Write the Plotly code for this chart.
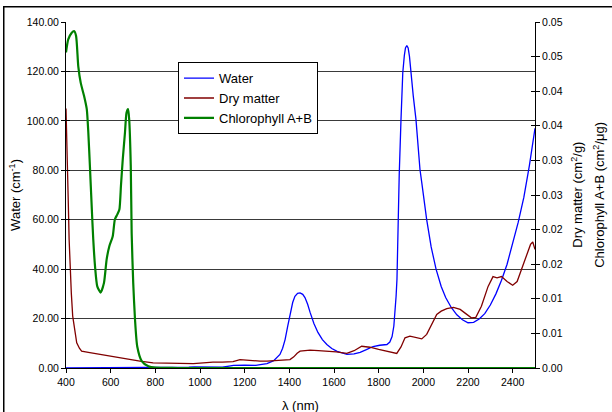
import plotly.graph_objects as go

# ---------------- DATA ----------------
water_wl = [400, 700, 900, 950, 975, 1000, 1050, 1100, 1130, 1150, 1200, 1250, 1270, 1300, 1330,
            1358, 1370, 1381, 1393, 1403, 1415, 1425, 1437, 1448, 1460, 1470, 1482, 1493, 1510,
            1528, 1548, 1568, 1590, 1614, 1635, 1658, 1690, 1717, 1745, 1775, 1805, 1837, 1850,
            1860, 1868, 1873, 1878, 1882, 1886, 1892, 1900, 1908, 1915, 1920, 1926, 1932, 1938,
            1944, 1955, 1967, 1976, 1985, 1993, 2003, 2015, 2035, 2057, 2080, 2100, 2125, 2150,
            2175, 2200, 2225, 2250, 2275, 2300, 2325, 2350, 2375, 2400, 2425, 2450, 2475, 2500]
water_val = [0.0, 0.01, 0.05, 0.3, 0.45, 0.4, 0.2, 0.3, 0.8, 1.1, 1.2, 1.1, 1.4, 1.8, 3.0,
             5.5, 8.0, 11.5, 17.0, 22.0, 26.5, 29.0, 30.2, 30.4, 29.8, 28.5, 25.8, 22.5, 18.0,
             14.4, 11.5, 9.5, 7.9, 6.7, 6.0, 5.5, 5.7, 6.3, 7.4, 8.7, 9.2, 9.5, 10.5,
             12.7, 17.0, 22.0, 29.0, 36.0, 55.0, 78.0, 100.6, 119.6, 126.5, 129.5, 130.5, 129.5, 126.0,
             119.6, 110.0, 100.6, 90.0, 80.3, 75.0, 67.0, 60.0, 49.0, 40.0, 33.0, 28.5, 24.5, 21.5,
             19.5, 18.3, 18.5, 19.8, 22.0, 25.5, 30.0, 35.5, 42.0, 50.0, 59.0, 69.0, 82.0, 97.0]

dry_wl = [400, 405, 410, 414, 418, 424, 430, 440, 448, 460, 470, 500, 550, 600, 650, 700, 731,
          790, 850, 900, 970, 1000, 1058, 1100, 1148, 1179, 1200, 1230, 1269, 1300, 1350, 1403,
          1420, 1435, 1448, 1493, 1530, 1568, 1610, 1657, 1690, 1724, 1761, 1800, 1840, 1881,
          1900, 1918, 1940, 1965, 1993, 2015, 2040, 2060, 2080, 2105, 2135, 2165, 2190, 2215,
          2235, 2260, 2290, 2312, 2330, 2350, 2375, 2400, 2420, 2440, 2460, 2480, 2490, 2500]
dry_val = [0.0375, 0.03214, 0.02429, 0.01857, 0.01464, 0.01071, 0.0075, 0.005, 0.00364, 0.00286,
           0.00243, 0.00225, 0.00196, 0.00168, 0.00143, 0.00118, 0.001, 0.00075, 0.00071, 0.00064,
           0.00064, 0.00071, 0.00086, 0.00086, 0.00093, 0.00121, 0.00114, 0.00104, 0.001, 0.001,
           0.00107, 0.00121, 0.00161, 0.00214, 0.00243, 0.00257, 0.0025, 0.00243, 0.00232, 0.00211,
           0.0025, 0.00314, 0.003, 0.00268, 0.00243, 0.00211, 0.00304, 0.00436, 0.00461, 0.00446,
           0.00421, 0.00486, 0.00643, 0.00775, 0.00821, 0.00857, 0.00875, 0.00846, 0.00786, 0.00725,
           0.00732, 0.00893, 0.01179, 0.01321, 0.01304, 0.01321, 0.0125, 0.01196, 0.0125, 0.01429,
           0.01607, 0.01786, 0.01821, 0.01714]

chl_wl = [400, 410, 425, 436, 445, 455, 466, 481, 493, 500, 507, 515, 522, 530, 540, 555, 570,
          582, 594, 609, 619, 630, 639, 646, 654, 664, 671, 678, 683, 690, 694, 701, 709, 719,
          739, 769, 800, 900, 2500]
chl_val = [0.0456, 0.0475, 0.0484, 0.0487, 0.0480, 0.0436, 0.0412, 0.0393, 0.0374, 0.0340,
           0.0292, 0.0234, 0.0186, 0.0147, 0.0118, 0.0109, 0.0123, 0.0157, 0.0176, 0.0190,
           0.0215, 0.0222, 0.0229, 0.0263, 0.0301, 0.0340, 0.0369, 0.0374, 0.0359, 0.0292,
           0.0195, 0.0123, 0.0070, 0.0031, 0.0010, 0.00025, 0.00005, 0.0, 0.0]

x_ticks = [400, 600, 800, 1000, 1200, 1400, 1600, 1800, 2000, 2200, 2400]
left_ticks = [0, 20, 40, 60, 80, 100, 120, 140]
right_ticks = [0.0, 0.005, 0.01, 0.015, 0.02, 0.025, 0.03, 0.035, 0.04, 0.045, 0.05]
right_labels = ["0.00", "0.01", "0.01", "0.02", "0.02", "0.03", "0.03", "0.04", "0.04", "0.05", "0.05"]

# ---------------- FIGURE ----------------
FONT = "Liberation Sans, Arial, sans-serif"
fig = go.Figure()

fig.add_trace(go.Scatter(x=water_wl, y=water_val, name="Water", mode="lines",
                         line=dict(color="#0000FF", width=1.3), yaxis="y"))
fig.add_trace(go.Scatter(x=dry_wl, y=dry_val, name="Dry matter", mode="lines",
                         line=dict(color="#800000", width=1.3), yaxis="y2"))
fig.add_trace(go.Scatter(x=chl_wl, y=chl_val, name="Chlorophyll A+B", mode="lines",
                         line=dict(color="#008000", width=2.2, shape="spline", smoothing=0.6),
                         yaxis="y2"))
# dummy traces so the tick-crossing overlay axes are drawn
fig.add_trace(go.Scatter(x=[None], y=[None], yaxis="y3", showlegend=False, hoverinfo="skip"))
fig.add_trace(go.Scatter(x=[None], y=[None], yaxis="y4", showlegend=False, hoverinfo="skip"))

fig.update_layout(
    width=612, height=412,
    margin=dict(l=66, r=77, t=22, b=44),
    paper_bgcolor="white", plot_bgcolor="white",
    font=dict(family=FONT, size=10.5, color="black"),
    showlegend=True,
    legend=dict(x=0.2388, y=0.884, xanchor="left", yanchor="top",
                bgcolor="white", bordercolor="black", borderwidth=1,
                font=dict(size=13, family=FONT), tracegroupgap=0,
                itemwidth=30),
    xaxis=dict(range=[400, 2500], tickvals=x_ticks, ticks="outside", ticklen=4,
               tickcolor="black", showline=True, linecolor="black", linewidth=1,
               showgrid=False, zeroline=False, tickfont=dict(size=10.5)),
    yaxis=dict(range=[0, 140], tickvals=left_ticks, tickformat=".2f", ticks="outside",
               ticklen=4, tickcolor="black", showline=True, linecolor="black", linewidth=1,
               showgrid=True, gridcolor="#3a3a3a", gridwidth=1, zeroline=False,
               tickfont=dict(size=10.5)),
    yaxis2=dict(range=[0, 0.05], tickvals=right_ticks, ticktext=right_labels,
                overlaying="y", side="right", anchor="x", ticks="outside", ticklen=4,
                tickcolor="black", showline=True, linecolor="black", linewidth=1,
                showgrid=False, zeroline=False, tickfont=dict(size=10.5)),
    yaxis3=dict(range=[0, 140], tickvals=left_ticks, overlaying="y", side="left", anchor="x",
                ticks="inside", ticklen=4, tickcolor="black", showticklabels=False,
                showline=False, showgrid=False, zeroline=False),
    yaxis4=dict(range=[0, 0.05], tickvals=right_ticks, overlaying="y", side="right", anchor="x",
                ticks="inside", ticklen=4, tickcolor="black", showticklabels=False,
                showline=False, showgrid=False, zeroline=False),
)

annotations = [
    dict(text="λ (nm)", x=0.5, y=-0.107, xref="paper", yref="paper", showarrow=False,
         xanchor="center", yanchor="middle", font=dict(size=13, family=FONT)),
    dict(text="Water (cm<sup>-1</sup>)", x=-0.109, y=0.5, xref="paper", yref="paper",
         showarrow=False, textangle=-90, xanchor="center", yanchor="middle",
         font=dict(size=13, family=FONT)),
    dict(text="Dry matter (cm<sup>2</sup>/g)", x=1.089, y=0.5, xref="paper", yref="paper",
         showarrow=False, textangle=-90, xanchor="center", yanchor="middle",
         font=dict(size=13, family=FONT)),
    dict(text="Chlorophyll A+B (cm<sup>2</sup>/μg)", x=1.136, y=0.5, xref="paper", yref="paper",
         showarrow=False, textangle=-90, xanchor="center", yanchor="middle",
         font=dict(size=13, family=FONT)),
    # outer chart frame: an empty bordered box whose right/bottom edges lie beyond the picture
    dict(text=".", x=(3 - 66) / 469, y=(368 - 6) / 346, xref="paper", yref="paper",
         showarrow=False, xanchor="left", yanchor="top", width=700, height=500,
         borderpad=0, bordercolor="black", borderwidth=1.5, bgcolor="rgba(0,0,0,0)",
         font=dict(color="rgba(0,0,0,0)", size=2)),
]
fig.update_layout(annotations=annotations)

fig.write_html("out.html", config={"displayModeBar": False},
               post_script="document.body.style.margin='0';document.body.style.overflow='hidden';")
